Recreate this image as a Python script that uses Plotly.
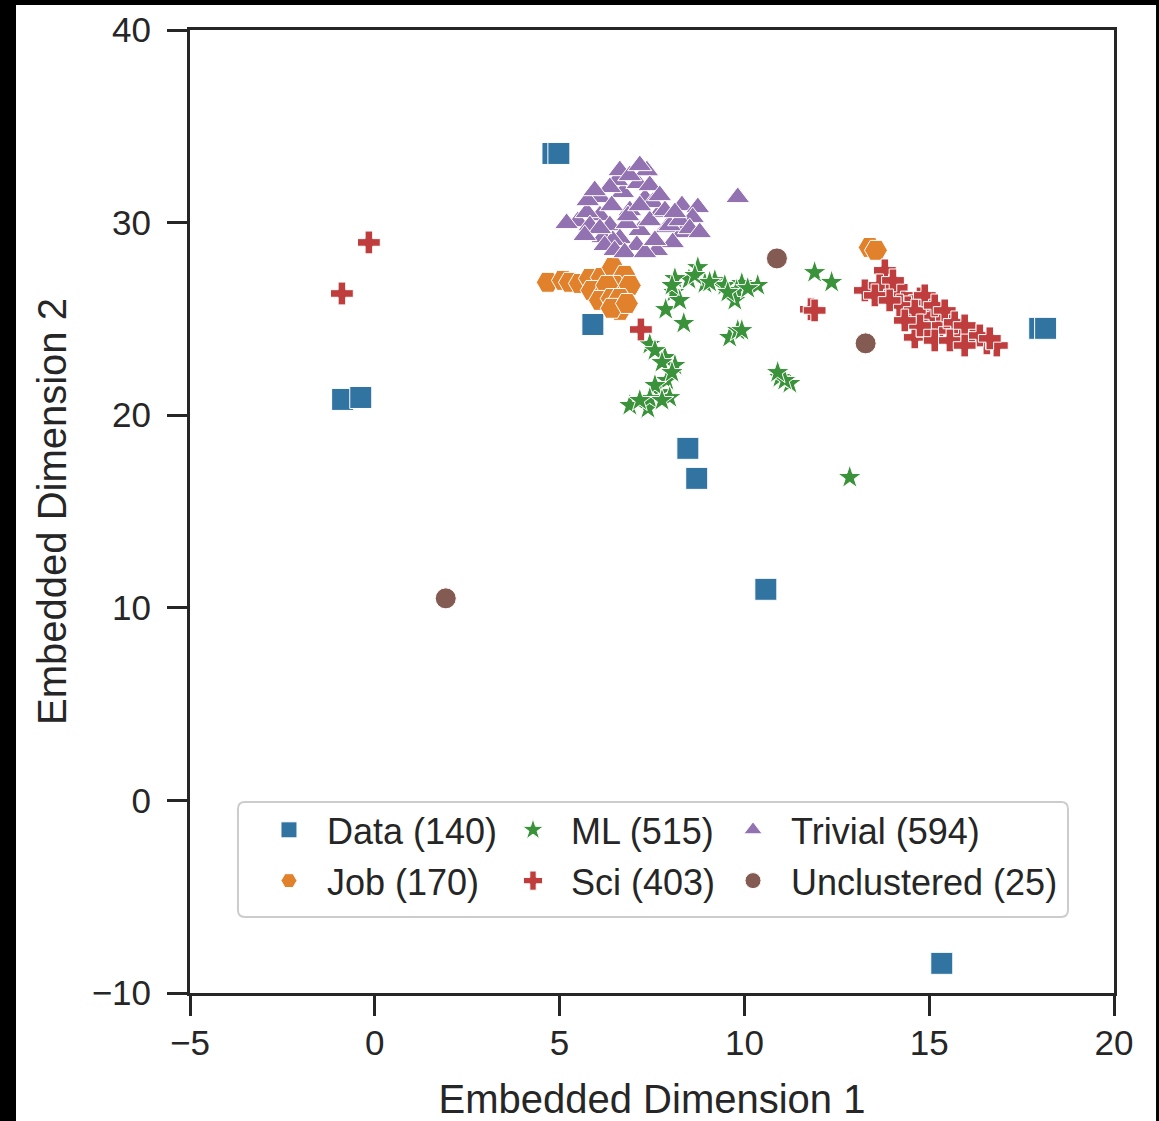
import plotly.graph_objects as go

# ---------------- data ----------------
data_x = [4.82, 4.98, 5.90, -0.87, -0.38, 8.47, 8.71, 10.58, 17.99, 18.15, 15.34]
data_y = [33.59, 33.59, 24.71, 20.82, 20.92, 18.28, 16.72, 10.96, 24.51, 24.51, -8.46]

job_x = [4.68, 5.09, 5.28, 5.55, 5.82, 6.14, 6.44, 6.76, 5.87, 6.22, 6.49, 6.90, 6.28,
         6.09, 6.41, 6.63, 6.63, 6.41, 6.82, 13.39, 13.56]
job_y = [26.90, 27.00, 26.90, 26.84, 27.10, 27.15, 27.67, 27.26, 26.48, 26.38, 26.74, 26.74, 26.74,
         25.96, 26.06, 25.44, 26.06, 25.55, 25.80, 28.71, 28.56]

ml_x = [8.74, 8.50, 8.12, 8.09, 7.87, 8.36, 9.20, 8.93, 9.47, 9.93, 9.79, 10.36, 9.74,
        9.60, 9.82, 7.44, 7.85, 8.12, 7.90, 7.71, 6.90, 7.39, 7.98, 11.90, 12.36,
        11.23, 10.96, 12.85, 8.25, 8.04, 8.66, 9.06, 10.09, 9.55, 9.93, 7.58, 7.77,
        8.04, 7.58, 7.44, 7.17, 7.77, 11.09, 10.90]
ml_y = [27.67, 27.05, 27.10, 26.38, 25.49, 24.77, 27.00, 26.84, 26.74, 26.84, 26.48, 26.74, 25.96,
        24.04, 24.40, 23.68, 23.00, 22.59, 21.81, 21.18, 20.51, 20.35, 20.92, 27.41, 26.90,
        21.65, 21.96, 16.77, 25.96, 26.74, 27.26, 26.90, 26.58, 26.38, 24.40, 23.36, 22.74,
        22.22, 21.55, 20.87, 20.77, 20.77, 21.81, 22.22]

sci_x = [-0.16, -0.89, 7.20, 11.80, 11.90, 13.80, 13.26, 13.85, 13.66, 14.26, 14.75, 14.42,
         14.96, 14.39, 14.83, 15.10, 15.29, 14.61, 14.96, 15.56, 15.83, 16.18, 16.56,
         16.83, 14.12, 15.48, 13.53, 14.02, 14.20, 14.61, 14.88, 15.15, 15.42, 15.69,
         15.96, 16.37, 14.75, 15.15, 15.56, 15.96, 16.64, 13.93, 14.34]
sci_y = [28.97, 26.32, 24.45, 25.50, 25.44, 27.52, 26.48, 26.48, 26.74, 26.22, 26.06, 25.60,
         25.80, 25.08, 25.08, 25.18, 24.66, 24.04, 24.25, 24.40, 24.04, 24.04, 23.73,
         23.62, 26.64, 25.08, 26.22, 27.00, 25.70, 25.44, 26.22, 25.70, 25.44, 24.82,
         24.66, 24.14, 24.66, 23.88, 23.88, 23.62, 23.99, 25.96, 24.92]

triv_x = [5.49, 5.19, 6.09, 6.71, 6.55, 7.31, 8.31, 8.74, 9.82, 7.71, 6.90, 6.36, 6.63,
          7.17, 7.90, 8.33, 8.06, 7.63, 7.09, 6.17, 6.09, 6.36, 7.12, 7.52, 8.60, 6.82,
          7.44, 5.74, 6.44, 7.36, 5.82, 6.22, 6.49, 6.76, 7.31, 7.58, 7.98, 8.25, 8.52,
          8.79, 5.76, 5.95, 6.63, 6.90, 7.17, 7.44, 7.71, 7.85, 8.12, 6.41, 6.85, 7.17,
          6.09, 5.68]
triv_y = [30.06, 29.96, 30.37, 31.57, 32.19, 31.26, 30.89, 30.79, 31.31, 30.53, 30.63, 29.85,
          29.18, 29.60, 29.75, 29.49, 28.97, 28.56, 28.82, 29.23, 31.31, 31.83, 32.04, 31.05,
          30.27, 29.96, 30.11, 30.53, 29.08, 32.70, 29.85, 28.82, 28.56, 28.45, 28.45, 29.08,
          29.85, 30.11, 29.70, 29.49, 31.15, 31.67, 32.71, 32.45, 32.97, 31.93, 31.41, 30.63,
          30.53, 30.89, 30.37, 30.89, 29.70, 29.34]

unc_x = [10.88, 13.28, 1.92]
unc_y = [28.14, 23.73, 10.49]

series_names = ["Data (140)", "Job (170)", "ML (515)", "Sci (403)", "Trivial (594)", "Unclustered (25)"]
x_ticks = [-5, 0, 5, 10, 15, 20]
y_ticks = [-10, 0, 10, 20, 30, 40]
x_title = "Embedded Dimension 1"
y_title = "Embedded Dimension 2"

# ---------------- style ----------------
colors = ["#3274a1", "#e1812c", "#3a923a", "#c03d3e", "#9372b2", "#845b53"]
symbols = ["square", "hexagon2", "star", "cross", "triangle-up", "circle"]
sizes = [22, 23, 18, 19, 21, 21]
legend_ids = ["legend", "legend", "legend2", "legend2", "legend3", "legend3"]

xs = [data_x, job_x, ml_x, sci_x, triv_x, unc_x]
ys = [data_y, job_y, ml_y, sci_y, triv_y, unc_y]

FONT = "Liberation Sans, Arial, Helvetica, sans-serif"
DARK = "#262626"

fig = go.Figure()
for i, (name, x, y, c, s, sz, lg) in enumerate(zip(series_names, xs, ys, colors, symbols, sizes, legend_ids)):
    fig.add_trace(go.Scatter(
        x=x, y=y, mode="markers", name=name, legend=lg, legendgroup="g%d" % i,
        marker=dict(color=c, symbol=s, size=sz, line=dict(color="white", width=1)),
    ))

axis_common = dict(
    showline=True, linecolor=DARK, linewidth=3, mirror=True,
    ticks="outside", ticklen=20, tickwidth=3, tickcolor=DARK,
    showgrid=False, zeroline=False, automargin=False,
    tickfont=dict(family=FONT, size=35, color=DARK),
    title_font=dict(family=FONT, size=40, color=DARK),
)

fig.update_xaxes(range=[-5, 20], tickvals=x_ticks,
                 ticktext=[str(v).replace("-", "\u2212") for v in x_ticks],
                 title_text=x_title, title_standoff=25, ticklabelstandoff=-3, **axis_common)
fig.update_yaxes(range=[-10, 40], tickvals=y_ticks,
                 ticktext=[str(v).replace("-", "\u2212") for v in y_ticks],
                 title_text=y_title, title_standoff=13, ticklabelstandoff=9, **axis_common)

# black frame around the picture, white page inside
fig.add_shape(type="rect", xref="paper", yref="paper",
              x0=-0.1883, x1=1.0455, y0=-0.2, y1=1.026,
              fillcolor="white", line=dict(width=0), layer="below")

# legend frame (rounded rectangle)
lx0, lx1, ly0, ly1 = 0.0519, 0.9502, 0.0789, 0.1983
rx, ry = 0.0075, 0.0072
legend_path = (
    f"M{lx0+rx},{ly1} L{lx1-rx},{ly1} Q{lx1},{ly1} {lx1},{ly1-ry} "
    f"L{lx1},{ly0+ry} Q{lx1},{ly0} {lx1-rx},{ly0} "
    f"L{lx0+rx},{ly0} Q{lx0},{ly0} {lx0},{ly0+ry} "
    f"L{lx0},{ly1-ry} Q{lx0},{ly1} {lx0+rx},{ly1} Z"
)
fig.add_shape(type="path", xref="paper", yref="paper", path=legend_path,
              fillcolor="rgba(255,255,255,0.85)", line=dict(color="#cccccc", width=2),
              layer="above")

legend_common = dict(
    orientation="v", yanchor="top", xanchor="left", y=0.2005,
    bgcolor="rgba(0,0,0,0)", borderwidth=0,
    font=dict(family=FONT, size=36, color=DARK),
    itemwidth=66, traceorder="grouped", tracegroupgap=1,
)

fig.update_layout(
    width=1159, height=1121,
    margin=dict(l=190, r=45, t=30, b=128, autoexpand=False),
    paper_bgcolor="black", plot_bgcolor="white",
    font=dict(family=FONT, color=DARK),
    showlegend=True,
    legend=dict(x=0.066, **legend_common),
    legend2=dict(x=0.3301, **legend_common),
    legend3=dict(x=0.5682, **legend_common),
)

fig.write_html(
    "out.html",
    config={"displayModeBar": False},
    post_script="document.body.style.margin='0px';document.body.style.background='black';",
)
